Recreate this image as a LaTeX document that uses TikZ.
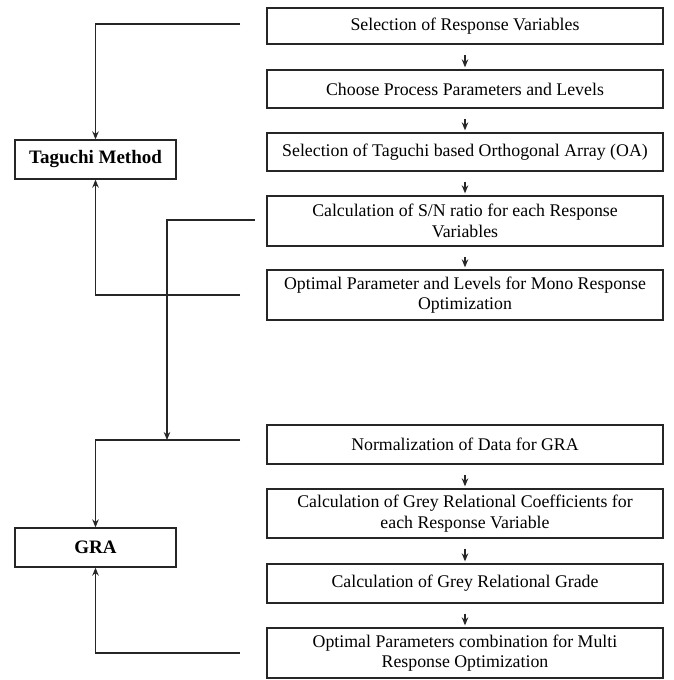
\documentclass[tikz,border=0pt]{standalone}
\usepackage{fontspec}
\setmainfont{Liberation Serif}
\usetikzlibrary{arrows.meta}
\begin{document}
\begin{tikzpicture}[x=1pt,y=-1pt,
  box/.style={draw=black!85, line width=1.3pt, minimum width=396pt, align=center, inner sep=0pt,
    font=\fontsize{17.8}{20.5}\selectfont},
  lbox/.style={draw=black!85, line width=1.3pt, minimum width=161pt, minimum height=39pt, inner sep=0pt,
    font=\fontsize{19}{22}\selectfont\bfseries},
  conn/.style={draw=black!85, line width=1.3pt},
  arr/.style={conn, -{Stealth[length=8pt,width=6.5pt]}},
  darr/.style={arr, shorten <=10pt, shorten >=2pt}]
\useasboundingbox (0,0) rectangle (673,680);
\fill[white] (0,0) rectangle (673,680);
% right column boxes
\node[box, minimum height=36pt] (b1) at (465,26) {Selection of Response Variables};
\node[box, minimum height=38pt] (b2) at (465,89) {Choose Process Parameters and Levels};
\node[box, minimum height=38pt] (b3) at (465,152) {Selection of Taguchi based Orthogonal Array (OA)};
\node[box, minimum height=50pt] (b4) at (465,221) {Calculation of S/N ratio for each Response\\Variables};
\node[box, minimum height=50pt] (b5) at (465,295) {Optimal Parameter and Levels for Mono Response\\Optimization};
\node[box, minimum height=39pt] (b6) at (465,444.5) {Normalization of Data for GRA};
\node[box, minimum height=49pt] (b7) at (465,513.5) {Calculation of Grey Relational Coefficients for\\each Response Variable};
\node[box, minimum height=39pt] (b8) at (465,583.5) {Calculation of Grey Relational Grade};
\node[box, minimum height=50pt] (b9) at (465,653) {Optimal Parameters combination for Multi\\Response Optimization};
% left boxes
\node[lbox] (tm) at (95.5,159.5) {Taguchi Method};
\node[lbox] (gra) at (95.5,547.5) {GRA};
% vertical arrows
\draw[darr] (b1) -- (b2);
\draw[darr] (b2) -- (b3);
\draw[darr] (b3) -- (b4);
\draw[darr] (b4) -- (b5);
\draw[darr] (b6) -- (b7);
\draw[darr] (b7) -- (b8);
\draw[darr] (b8) -- (b9);
% free ends
\coordinate (c1) at (240,24);
\coordinate (c5) at (240,295);
\coordinate (c4) at (255,220);
\coordinate (c6) at (240,440);
\coordinate (j6) at (167,440);
\coordinate (c9) at (240,653);
% connectors
\draw[arr] (c1) -| (tm.north);
\draw[arr] (c5) -| (tm.south);
\draw[arr] (c4) -| (j6);
\draw[arr] (c6) -| (gra.north);
\draw[arr] (c9) -| (gra.south);
\end{tikzpicture}
\end{document}
